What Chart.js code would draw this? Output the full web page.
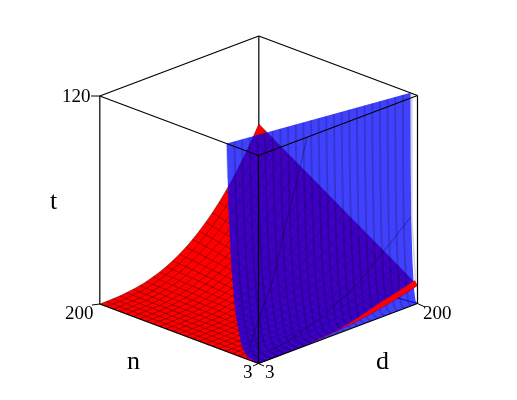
<!DOCTYPE html>
<html><head><meta charset="utf-8">
<style>html,body{margin:0;padding:0;background:#fff}canvas{display:block}</style>
<script src="https://cdn.jsdelivr.net/npm/chart.js@4"></script>
</head><body><canvas id="c" width="517" height="400"></canvas>
<script>
// Values
const axisMin = 3, axisMax = 200, tMax = 120;
const gridValues = [3,11.2,19.4,27.6,35.8,44,52.3,60.5,68.7,76.9,85.1,93.3,101.5,109.7,117.9,126.1,134.3,142.5,150.8,159,167.2,175.4,183.6,191.8,200];
// red surface: t for each n (rows) and d (columns)
const redT = [
[0,0,0,0,.1,.2,.3,.4,.6,.8,1.1,1.4,1.7,2.1,2.6,3.1,3.6,4.2,4.9,5.7,6.5,7.4,8.3,9.3,10.4],
[0,0,0,.1,.1,.2,.3,.5,.7,1,1.3,1.7,2.1,2.6,3.2,3.8,4.5,5.2,6.1,7,8,9.1,10.3,11.5,12.9],
[0,0,0,.1,.1,.3,.4,.6,.9,1.2,1.6,2,2.5,3.1,3.8,4.5,5.3,6.2,7.2,8.3,9.5,10.8,12.2,13.7,15.3],
[0,0,0,.1,.2,.3,.5,.7,1,1.4,1.8,2.3,2.9,3.6,4.4,5.2,6.2,7.2,8.4,9.7,11,12.5,14.2,15.9,17.8],
[0,0,0,.1,.2,.3,.5,.8,1.2,1.6,2.1,2.7,3.3,4.1,5,6,7,8.2,9.6,11,12.6,14.3,16.1,18.1,20.2],
[0,0,0,.1,.2,.4,.6,.9,1.3,1.8,2.3,3,3.7,4.6,5.6,6.7,7.9,9.2,10.7,12.3,14.1,16,18.1,20.3,22.7],
[0,0,0,.1,.2,.4,.7,1,1.5,2,2.6,3.3,4.1,5.1,6.2,7.4,8.7,10.2,11.9,13.7,15.6,17.7,20,22.5,25.1],
[0,0,0,.1,.3,.5,.7,1.1,1.6,2.1,2.8,3.6,4.5,5.6,6.8,8.1,9.6,11.2,13,15,17.1,19.5,22,24.7,27.6],
[0,0,0,.1,.3,.5,.8,1.2,1.7,2.3,3.1,4,5,6.1,7.4,8.9,10.4,12.2,14.2,16.4,18.7,21.2,23.9,26.9,30],
[0,0,.1,.1,.3,.6,.9,1.3,1.9,2.5,3.3,4.3,5.4,6.6,8,9.6,11.3,13.2,15.3,17.7,20.2,22.9,25.9,29,32.5],
[0,0,.1,.2,.3,.6,.9,1.4,2,2.7,3.6,4.6,5.8,7.1,8.6,10.3,12.1,14.2,16.5,19,21.7,24.7,27.9,31.2,34.9],
[0,0,.1,.2,.4,.6,1,1.5,2.2,2.9,3.8,4.9,6.2,7.6,9.2,11,13,15.2,17.7,20.4,23.2,26.4,29.8,33.4,37.4],
[0,0,.1,.2,.4,.7,1.1,1.6,2.3,3.1,4.1,5.3,6.6,8.1,9.8,11.7,13.9,16.2,18.8,21.7,24.8,28.1,31.8,35.6,39.8],
[0,0,.1,.2,.4,.7,1.1,1.7,2.5,3.3,4.4,5.6,7,8.6,10.4,12.5,14.7,17.2,20,23,26.3,29.9,33.7,37.8,42.3],
[0,0,.1,.2,.4,.8,1.2,1.8,2.6,3.5,4.6,5.9,7.4,9.1,11,13.2,15.6,18.2,21.1,24.4,27.8,31.6,35.7,40,44.7],
[0,0,.1,.2,.4,.8,1.3,1.9,2.7,3.7,4.9,6.2,7.8,9.6,11.6,13.9,16.4,19.2,22.3,25.7,29.3,33.3,37.6,42.2,47.2],
[0,0,.1,.2,.5,.8,1.3,2,2.9,3.9,5.1,6.5,8.2,10.1,12.2,14.6,17.3,20.2,23.5,27,30.9,35.1,39.6,44.4,49.6],
[0,0,.1,.2,.5,.9,1.4,2.1,3,4.1,5.4,6.9,8.6,10.6,12.8,15.4,18.1,21.2,24.6,28.4,32.4,36.8,41.5,46.6,52.1],
[0,0,.1,.2,.5,.9,1.5,2.2,3.2,4.3,5.6,7.2,9,11.1,13.4,16.1,19,22.2,25.8,29.7,33.9,38.5,43.5,48.8,54.5],
[0,0,.1,.3,.5,1,1.5,2.3,3.3,4.4,5.9,7.5,9.4,11.6,14,16.8,19.8,23.2,26.9,31,35.4,40.3,45.4,51,57],
[0,0,.1,.3,.6,1,1.6,2.4,3.4,4.6,6.1,7.8,9.8,12.1,14.6,17.5,20.7,24.2,28.1,32.4,36.9,42,47.4,53.2,59.4],
[0,0,.1,.3,.6,1.1,1.7,2.5,3.6,4.8,6.4,8.2,10.2,12.6,15.2,18.2,21.5,25.2,29.3,33.7,38.5,43.7,49.4,55.4,61.9],
[0,0,.1,.3,.6,1.1,1.7,2.6,3.7,5,6.6,8.5,10.6,13.1,15.8,19,22.4,26.2,30.4,35,40,45.5,51.3,57.5,64.3],
[0,0,.1,.3,.6,1.1,1.8,2.7,3.9,5.2,6.9,8.8,11,13.6,16.4,19.7,23.2,27.2,31.6,36.4,41.5,47.2,53.3,59.7,66.8],
[0,0,.1,.3,.7,1.2,1.9,2.8,4,5.4,7.1,9.1,11.4,14,17,20.4,24.1,28.2,32.7,37.7,43,48.9,55.2,61.9,69.2]];
// blue surface: n reached at each t level, one row per d
const blueTLevels = [0,1.2,6,12,24,48,84,120];
const blueN = [
[3,16.8,23.7,26.6,31.6,36.5,40.4,42.4],[3,16.3,23,25.8,30.7,35.4,39.2,41.1],[3,15.9,22.3,25,29.7,34.4,38,39.8],
[3,15.4,21.6,24.3,28.8,33.3,36.8,38.6],[3,14.9,20.9,23.5,27.9,32.2,35.6,37.3],[3,14.4,20.2,22.7,27,31.2,34.4,36],
[3,14,19.5,21.9,26,30.1,33.2,34.7],[3,13.5,18.8,21.1,25.1,29,32,33.4],[3,13,18.1,20.4,24.2,28,30.8,32.2],
[3,12.5,17.4,19.6,23.2,26.9,29.6,30.9],[3,12.1,16.7,18.8,22.3,25.8,28.4,29.6],[3,11.6,16,18,21.4,24.8,27.2,28.3],
[3,11.1,15.3,17.3,20.5,23.7,26,27.1],[3,10.6,14.6,16.5,19.5,22.6,24.7,25.8],[3,10.2,13.9,15.7,18.6,21.6,23.5,24.5],
[3,9.7,13.2,14.9,17.7,20.5,22.3,23.2],[3,9.2,12.5,14.1,16.7,19.4,21.1,22],[3,8.7,11.8,13.4,15.8,18.4,19.9,20.7],
[3,8.3,11.1,12.6,14.9,17.3,18.7,19.4],[3,7.8,10.4,11.8,14,16.2,17.5,18.1],[3,7.3,9.7,11,13,15.2,16.3,16.8],
[3,6.8,9,10.2,12.1,14.1,15.1,15.6],[3,6.4,8.3,9.5,11.2,13,13.9,14.3],[3,5.9,7.6,8.7,10.2,12,12.7,13],
[3,5.4,6.9,7.9,9.3,10.9,11.5,11.7]];
// two long mesh curves of the blue surface, at fixed n
const curveAN = 27.6;
const curveAD = [15.8,19.5,26.8,34.3,44.2,60.3,75.3,87.7];
const curveAT = [0,6.3,15.5,24,34.9,63.8,88.8,111.5];
const curveBN = 11.2;
const curveBD = [22.9,35.3,81.2,134.4,165.5,200];
const curveBT = [2,2.4,8.8,21.9,34.3,48.5];
// upper edge of the red band that shows in front of the blue surface
const bandD = [66.8,104.1,126.3,153.5,178.3,196.9,200];
const bandT = [.6,2.2,4.8,8.6,11.5,14,10.4];
const cornerD = [175.3,200], cornerT = [7.5,0];
// pale grey rims beside the blue surface
const rimRightN = [10.5,10,5.5], rimRightT = [120,48,12];
const rimLeftN = [43.1,41.5], rimLeftT = [120,100];
// tick labels and axis titles
const tLabels = ['120'], nLabels = ['3','200'], dLabels = ['3','200'];
const axisTitles = ['n','d','t'];

// 3-D view onto the chart's two linear scales
function project(n,d,t){
  const nf=(n-axisMin)/(axisMax-axisMin), df=(d-axisMin)/(axisMax-axisMin);
  return {x:258.5+159*df-158.7*nf, y:363.5-60*df-59.5*nf-208*t/tMax};
}
const datasets=[];
function add(points,opt){
  datasets.push(Object.assign({data:points,showLine:true,pointRadius:0,borderWidth:0,fill:false,tension:0,
    order:-datasets.length,borderColor:'rgba(0,0,0,0)',backgroundColor:'rgba(0,0,0,0)'},opt));
}
const last=gridValues.length-1;
const box=(a,b)=>add([project(...a),project(...b)],{borderColor:'#000',borderWidth:1.2});
const L=axisMin,H=axisMax;

// back edges of the box
box([H,H,tMax],[H,H,0]);

// red surface
const redOutline=[];
gridValues.forEach((d,j)=>redOutline.push(project(L,d,redT[0][j])));
gridValues.forEach((n,i)=>redOutline.push(project(n,H,redT[i][last])));
for(let j=last;j>=0;j--)redOutline.push(project(H,gridValues[j],redT[last][j]));
add(redOutline,{fill:'shape',backgroundColor:'#ff0000'});
const mesh={borderColor:'rgba(60,0,0,.5)',borderWidth:.9};
gridValues.forEach((n,i)=>add(gridValues.map((d,j)=>project(n,d,redT[i][j])),mesh));
gridValues.forEach((d,j)=>add(gridValues.map((n,i)=>project(n,d,redT[i][j])),mesh));

// grey rims
add(rimRightN.map((n,k)=>project(n,H,rimRightT[k])),{borderColor:'#d9d9d9',borderWidth:1.6});
add(rimLeftN.map((n,k)=>project(n,L,rimLeftT[k])),{borderColor:'#d9d9d9',borderWidth:1});

// blue surface
const blueOutline=[];
blueTLevels.forEach((t,k)=>blueOutline.push(project(blueN[0][k],L,t)));
for(let k=blueTLevels.length-1;k>=0;k--)blueOutline.push(project(blueN[last][k],H,blueTLevels[k]));
add(blueOutline,{fill:'shape',backgroundColor:'rgba(0,0,255,.75)'});
gridValues.forEach((d,j)=>{ if(j===0||j===last)return;
  add(blueTLevels.map((t,k)=>project(blueN[j][k],d,t)),{borderColor:'rgba(0,0,0,.18)',borderWidth:2,tension:.2});});
add(curveAD.map((d,k)=>project(curveAN,d,curveAT[k])),{borderColor:'rgba(0,0,40,.4)',borderWidth:1,tension:.3});
add(curveBD.map((d,k)=>project(curveBN,d,curveBT[k])),{borderColor:'rgba(0,0,40,.4)',borderWidth:1,tension:.3});

// red band in front of the blue surface
const band=bandD.map((d,k)=>project(L,d,bandT[k]));
for(let j=last;j>=0&&gridValues[j]>=bandD[0];j--)band.push(project(L,gridValues[j],redT[0][j]));
add(band,{fill:'shape',backgroundColor:'#ff0000'});
add(cornerD.map((d,k)=>project(L,d,cornerT[k])),{borderColor:'rgba(0,0,170,.9)',borderWidth:1});

// front edges of the box
box([H,L,tMax],[H,H,tMax]);box([H,H,tMax],[L,H,tMax]);box([L,H,tMax],[L,L,tMax]);box([L,L,tMax],[H,L,tMax]);
box([H,L,tMax],[H,L,0]);box([L,L,tMax],[L,L,0]);box([L,H,tMax],[L,H,0]);
box([H,L,0],[L,L,0]);box([L,L,0],[L,H,0]);

// tick marks, in units of the view scales
const tickSegments=[[91,96,100,96],[92,305,100,304],[253,366,258.5,363.5],[264,366,258.5,363.5],[425,307,417.5,303.5]];
tickSegments.forEach(s=>add([{x:s[0],y:s[1]},{x:s[2],y:s[3]}],{borderColor:'#000',borderWidth:1}));

const textItems=[
 {s:tLabels[0],x:62,y:102,size:19},{s:nLabels[1],x:65,y:319,size:19},{s:nLabels[0],x:243,y:378,size:19},
 {s:dLabels[0],x:265,y:378,size:19},{s:dLabels[1],x:423,y:319,size:19},
 {s:axisTitles[0],x:127,y:369,size:26},{s:axisTitles[1],x:376,y:369,size:26},{s:axisTitles[2],x:50,y:209,size:26}];
const textPlugin={id:'axisText',afterDraw(ch){
  const c=ch.ctx;c.save();c.fillStyle='#000';c.textAlign='left';c.textBaseline='alphabetic';
  textItems.forEach(o=>{c.font=o.size+'px "Liberation Serif"';
    c.fillText(o.s,ch.scales.x.getPixelForValue(o.x),ch.scales.y.getPixelForValue(o.y));});
  c.restore();
}};
new Chart(document.getElementById('c'),{
  type:'scatter',data:{datasets},plugins:[textPlugin],
  options:{responsive:false,animation:false,devicePixelRatio:1,layout:{padding:0},
    plugins:{legend:{display:false},tooltip:{enabled:false},title:{display:false}},
    scales:{x:{type:'linear',min:0,max:517,display:false},y:{type:'linear',min:0,max:400,reverse:true,display:false}}}
});
</script></body></html>
